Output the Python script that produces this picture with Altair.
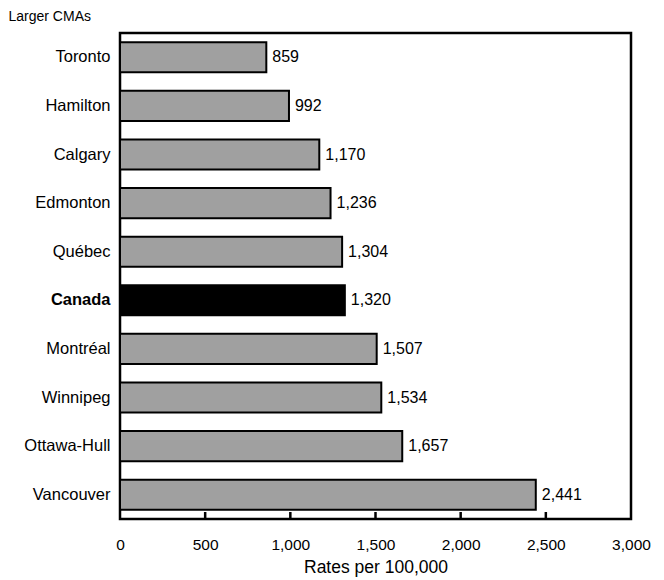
import altair as alt
import pandas as pd

cities = ["Toronto", "Hamilton", "Calgary", "Edmonton", "Québec", "Canada",
          "Montréal", "Winnipeg", "Ottawa-Hull", "Vancouver"]
rates = [859, 992, 1170, 1236, 1304, 1320, 1507, 1534, 1657, 2441]
tick_values = [500, 1000, 1500, 2000, 2500]

df = pd.DataFrame({"city": cities, "rate": rates})
df["label"] = df["rate"].map(lambda v: f"{v:,}")
df["is_canada"] = df["city"] == "Canada"

W, H = 511, 486
FONT = "Liberation Sans"

y_enc = alt.Y("city:N", sort=cities,
              scale=alt.Scale(paddingInner=0.38, paddingOuter=0.19),
              axis=alt.Axis(title="Larger CMAs", titleAngle=0, titleX=-112, titleY=-17,
                            titleAlign="left", titleBaseline="middle", titleFontSize=14,
                            titleFontWeight="normal", titleFont=FONT, titleColor="black",
                            labelFont=FONT, labelFontSize=16.5, labelColor="black",
                            labelPadding=10, ticks=False, domain=False,
                            labelFontWeight=alt.expr("datum.value == 'Canada' ? 'bold' : 'normal'")))
x_enc = alt.X("rate:Q", scale=alt.Scale(domain=[0, 3000], nice=False),
              axis=alt.Axis(title="Rates per 100,000", values=[0, 500, 1000, 1500, 2000, 2500, 3000],
                            format=",d", grid=False, ticks=False, domain=False,
                            labelFont=FONT, labelFontSize=15.5, labelColor="black", labelPadding=18,
                            titleFont=FONT, titleFontSize=17.5, titleFontWeight="normal",
                            titleColor="black", titlePadding=6, labelFlush=False))

bars = alt.Chart(df).mark_bar(stroke="black", strokeWidth=2).encode(
    x=x_enc, y=y_enc,
    color=alt.condition("datum.is_canada", alt.value("black"), alt.value("#a0a0a0")),
)

texts = alt.Chart(df).mark_text(align="left", baseline="middle", dx=6, fontSize=16,
                                font=FONT, color="black").encode(
    x="rate:Q", y=alt.Y("city:N", sort=cities), text="label:N")

ticks = alt.Chart(pd.DataFrame({"t": tick_values})).mark_rule(color="black", strokeWidth=2.5).encode(
    x="t:Q", y=alt.value(H), y2=alt.value(H - 7))

chart = alt.layer(bars, texts, ticks).properties(
    width=W, height=H,
    autosize=alt.AutoSizeParams(type="none"),
    padding={"left": 112, "top": 25, "right": 25, "bottom": 58},
).configure_view(stroke="black", strokeWidth=2.5)

chart.save("out.html", embed_options={"renderer": "svg", "actions": False})
